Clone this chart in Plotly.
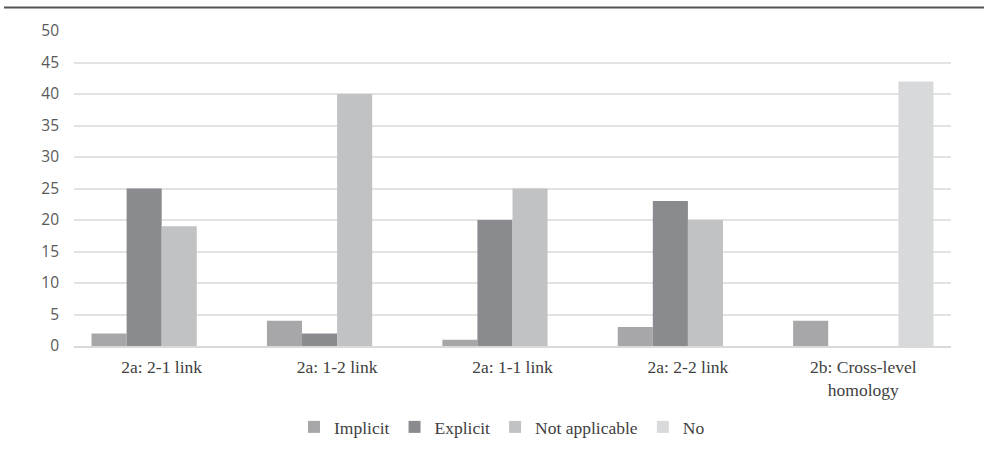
import plotly.graph_objects as go

categories = ["2a: 2-1 link", "2a: 1-2 link", "2a: 1-1 link", "2a: 2-2 link", "2b: Cross-level<br>homology"]
implicit = [2, 4, 1, 3, 4]
explicit = [25, 2, 20, 23, 0]
not_applicable = [19, 40, 25, 20, 0]
no = [0, 0, 0, 0, 42]
series_names = ["Implicit", "Explicit", "Not applicable", "No"]
series_colors = ["#a7a7a9", "#8a8b8e", "#c1c2c4", "#d8d9db"]
y_ticks = [0, 5, 10, 15, 20, 25, 30, 35, 40, 45, 50]

fig = go.Figure()
for name, vals, col in zip(series_names, [implicit, explicit, not_applicable, no], series_colors):
    fig.add_trace(go.Bar(x=categories, y=vals, name=name, marker=dict(color=col, line=dict(width=0))))

W, H = 984, 450
ml, mr, mt, mb = 74, 33, 31, 104
fig.update_layout(
    width=W, height=H,
    margin=dict(l=ml, r=mr, t=mt, b=mb, autoexpand=False),
    barmode="group", bargap=0.2, bargroupgap=0,
    plot_bgcolor="white", paper_bgcolor="white",
    showlegend=True,
    legend=dict(orientation="h", xref="container", yref="container",
                x=502 / W, xanchor="center", y=1 - 427 / H, yanchor="middle",
                font=dict(family="Liberation Serif", size=17.5, color="#404040"),
                itemwidth=30, traceorder="normal"),
    xaxis=dict(showgrid=False, showline=True, linecolor="#d9d9d9", linewidth=1.5,
               tickfont=dict(family="Liberation Serif", size=17.5, color="#404040"),
               ticks="", ticklabelstandoff=4, automargin=False, fixedrange=True),
    yaxis=dict(range=[0, 50], tickvals=y_ticks, showgrid=True, gridcolor="#e3e3e3", gridwidth=1.5,
               zeroline=False, showline=False,
               tickfont=dict(family="Open Sans", size=15.5, color="#595959"),
               ticklabelstandoff=14, automargin=False, fixedrange=True),
)
pw = W - ml - mr
fig.add_shape(type="line", xref="paper", yref="paper",
              x0=(4 - ml) / pw, x1=(W - ml) / pw,
              y0=1 + (mt - 7.5) / (H - mt - mb), y1=1 + (mt - 7.5) / (H - mt - mb),
              line=dict(color="#555555", width=2))
fig.write_html("out.html", config={"displayModeBar": False},
               post_script="document.body.style.margin='0';document.body.style.overflow='hidden';")
